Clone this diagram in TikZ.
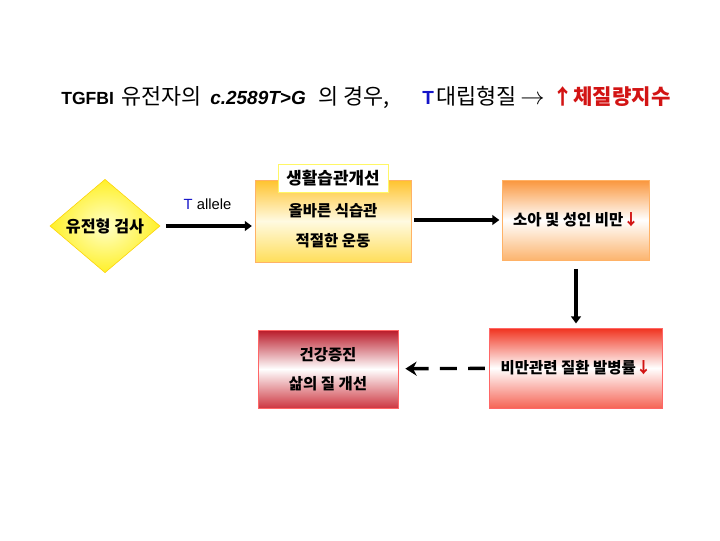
\documentclass[tikz,border=0pt]{standalone}
\usepackage{fontspec}
\setmainfont{Liberation Sans}
\newfontfamily\kr{Noto Sans CJK KR}
\usetikzlibrary{shapes.geometric,arrows.meta,positioning}
\definecolor{titleblue}{RGB}{20,20,200}
\definecolor{upred}{RGB}{210,20,20}
\definecolor{goldtop}{RGB}{255,195,45}
\definecolor{goldbot}{RGB}{255,222,90}
\definecolor{orangetop}{RGB}{250,150,60}
\definecolor{orangebot}{RGB}{252,180,110}
\definecolor{redtop}{RGB}{240,50,30}
\definecolor{redbot}{RGB}{245,100,85}
\definecolor{darkredtop}{RGB}{185,25,40}
\definecolor{darkredbot}{RGB}{205,55,65}
\def\px{0.025cm}

\tikzset{
  stepbox/.style={rectangle,draw=#1!60!white,line width=0.5pt,align=center,
                  font=\kr\bfseries\fontsize{11}{13}\selectfont,inner sep=0pt},
  titlelat/.style={anchor=base west,inner sep=0pt,font=\bfseries\fontsize{13.5}{15}\selectfont},
  titlekr/.style={anchor=base west,inner sep=0pt,font=\kr\fontsize{15.5}{18}\selectfont},
  flow/.style={line width=2.4pt,-{Triangle[length=5pt,width=7pt]}},
  dashflow/.style={line width=2.4pt,dash pattern=on 12pt off 8pt,
                   -{Stealth[length=8pt,width=10pt]}},
}

\begin{document}
\begin{tikzpicture}[x=\px,y=-\px]
\useasboundingbox (0,0) rectangle (720,540);
%% Title line
\node[titlelat,font=\bfseries\fontsize{12.5}{15}\selectfont] (tgfbi) at (61,104) {TGFBI};
\node[titlekr] (gene) at (121,104) {유전자의};
\node[titlelat,font=\bfseries\itshape\fontsize{13.5}{15}\selectfont] (variant) at (210,104) {c.2589T>G};
\node[titlekr] (case) at (318,104) {의 경우,};
\node[titlelat,text=titleblue] (tallele) at (422,104) {T};
\node[titlekr] (allele) at (436,104) {대립형질};
\node[titlelat,font=\fontsize{16}{18}\selectfont] (then) at (520,104) {$\rightarrow$};
\node[titlekr,text=upred,font=\kr\bfseries\fontsize{15}{18}\selectfont] (bmi) at (552,104) {↑체질량지수};
%% Genotype test
\node[diamond,draw=yellow!70!orange,line width=0.4pt,inner sep=0pt,
      minimum width={110*\px},minimum height={85*\px},
      inner color={rgb,255:red,255;green,255;blue,200},outer color={rgb,255:red,255;green,240;blue,40},
      font=\kr\bfseries\fontsize{11.5}{13}\selectfont] (test) at (105,226) {유전형 검사};
%% Lifestyle box
\node[stepbox=orange,minimum width={156*\px},minimum height={82*\px},
      top color=goldtop,bottom color=goldbot,middle color={rgb,255:red,255;green,250;blue,225}]
      (life) at (333,221) {\rule{0pt}{16pt}올바른 식습관\\[8pt]적절한 운동};
\node[stepbox=yellow,fill=white,minimum width={110*\px},minimum height={28*\px},
      font=\kr\bfseries\fontsize{12}{14}\selectfont] (lifetag) at (333,178) {생활습관개선};
%% Childhood and adult obesity
\node[stepbox=orange,minimum width={147*\px},minimum height={80*\px},
      top color=orangetop,bottom color=orangebot,middle color=white]
      (obese) at (576,220) {소아 및 성인 비만\textcolor{upred}{↓}};
%% Obesity related disease
\node[stepbox=red,minimum width={173*\px},minimum height={80*\px},
      top color=redtop,bottom color=redbot,middle color=white]
      (disease) at (576,368) {비만관련 질환 발병률\textcolor{upred}{↓}};
%% Health promotion
\node[stepbox=red,minimum width={140*\px},minimum height={78*\px},
      top color=darkredtop,bottom color=darkredbot,middle color=white]
      (health) at (328,369) {건강증진\\[8pt]삶의 질 개선};
%% Connectors
\draw[flow,shorten <=4pt,shorten >=2pt] (test.east) -- node[above=7pt,font=\fontsize{10.5}{12}\selectfont]
  {\textcolor{titleblue}{T} allele} (test.east -| life.west);
\draw[flow,shorten <=2pt,shorten >=2pt] (life.east |- obese) -- (obese);
\draw[flow,shorten <=6pt,shorten >=3pt] (obese) -- (disease);
\draw[dashflow,shorten <=3pt,shorten >=5pt] (disease) -- (health);
\end{tikzpicture}
\end{document}
